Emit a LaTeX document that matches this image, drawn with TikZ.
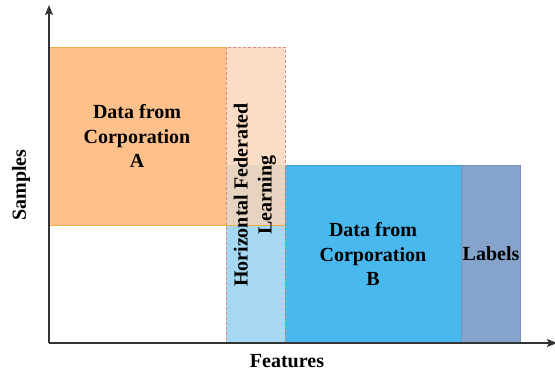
\documentclass[tikz,border=0pt]{standalone}
\usepackage{fontspec}
\setmainfont{Liberation Serif}
\usetikzlibrary{arrows.meta}
\definecolor{orA}{HTML}{FDC08B}
\definecolor{orAb}{HTML}{EDAE45}
\definecolor{peach}{HTML}{FADDC4}
\definecolor{tan}{HTML}{E6D4C0}
\definecolor{ltblue}{HTML}{A6D8F3}
\definecolor{blB}{HTML}{48B8EE}
\definecolor{blBb}{HTML}{3A9FD8}
\definecolor{lab}{HTML}{85A3CB}
\definecolor{labb}{HTML}{7590BC}
\definecolor{dashc}{HTML}{D98C80}
\begin{document}
\begin{tikzpicture}[x=1pt,y=-1pt,
  boxtxt/.style={font=\bfseries\fontsize{20}{24.5}\selectfont, align=center, text=black, inner sep=0pt},
  axis/.style={line width=1.3pt, draw=black!80, -{Stealth[length=10pt,width=8pt,inset=2pt]}}]
\useasboundingbox (0,0) rectangle (555,374);
% fills
\fill[orA] (49,47) rectangle (226,225);
\fill[peach] (226,47) rectangle (285,165);
\fill[tan] (226,165) rectangle (285,225);
\fill[ltblue] (226,225) rectangle (285,343);
\fill[blB] (285,165) rectangle (461,343);
\fill[lab] (461,165) rectangle (520,343);
% borders
\draw[orAb, line width=0.8pt] (226,47) -- (49,47) -- (49,225) -- (226,225);
\draw[orAb, line width=0.6pt] (226,225) -- (285,225) -- (285,165);
\draw[blBb, line width=0.8pt] (285,343) -- (285,165) -- (461,165);
\draw[labb, line width=0.8pt] (461,343) -- (461,165) -- (520,165) -- (520,343);
\draw[dashc, dashed, dash pattern=on 3pt off 2pt, line width=0.8pt] (226,47) rectangle (285,343);
% nodes
\node[boxtxt] (A) at (137,136) {Data from\\Corporation\\A};
\node[boxtxt] (B) at (373,254) {Data from\\Corporation\\B};
\node[boxtxt] (L) at (491,254) {Labels};
\node[boxtxt, rotate=90, font=\bfseries\fontsize{20}{24}\selectfont] (H) at (255,195) {Horizontal Federated\\Learning};
\node[boxtxt] (S) at (21,185) [rotate=90] {Samples};
\node[boxtxt] (F) at (287,361) {Features};
% axes
\coordinate (O) at (49,343);
\coordinate (Y) at (49,5);
\coordinate (X) at (557,343);
\draw[axis] (O) -- (Y);
\draw[axis] (O) -- (X);
\end{tikzpicture}
\end{document}
